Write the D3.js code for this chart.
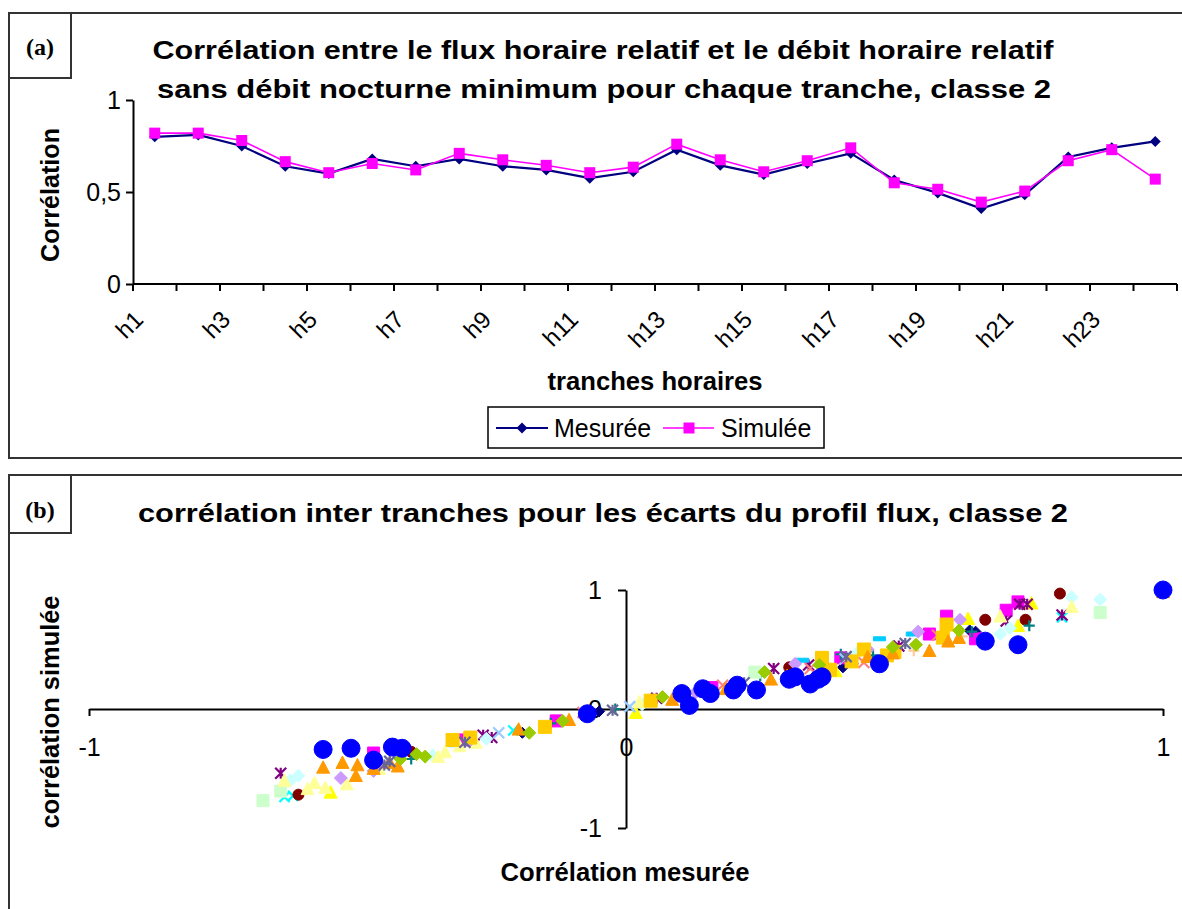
<!DOCTYPE html>
<html><head><meta charset="utf-8">
<script src="https://cdn.jsdelivr.net/npm/d3@7"></script>
<style>
body{margin:0;background:#fff}
text{font-family:"Liberation Sans",Arial,sans-serif;fill:#000}
</style>
</head><body>
<svg id="chart" width="1182" height="909"></svg>
<script>
// ---------- DATA : panel (a) ----------
const tranches = ["h1","h2","h3","h4","h5","h6","h7","h8","h9","h10","h11","h12",
                  "h13","h14","h15","h16","h17","h18","h19","h20","h21","h22","h23","h24"];
const mesuree = [0.80,0.81,0.75,0.64,0.60,0.68,0.64,0.68,0.64,0.62,0.575,0.61,
                 0.73,0.645,0.595,0.655,0.71,0.565,0.495,0.41,0.485,0.69,0.74,0.775];
const simulee = [0.82,0.82,0.78,0.665,0.605,0.655,0.62,0.71,0.675,0.645,0.605,0.635,
                 0.76,0.675,0.61,0.67,0.74,0.55,0.515,0.445,0.505,0.67,0.73,0.57];
const yTicksA = [0, 0.5, 1];
const yTickLabelsA = ["0", "0,5", "1"];

// ---------- DATA : panel (b)  [corrélation mesurée, corrélation simulée] ----------
const sNavy = [[-0.193,-0.20],[-0.05,-0.02],[0.404,0.35],[0.651,0.65],[0.64,0.66]];
const sMagenta = [[-0.47,-0.37],[-0.30,-0.26],[-0.13,-0.10],[0.16,0.18],[0.40,0.43],[0.565,0.63],[0.597,0.78],[0.651,0.59],[0.708,0.83],[0.73,0.90]];
const sYellow = [[0.018,-0.03],[0.39,0.32],[0.637,0.76],[0.73,0.70],[0.755,0.89],[-0.55,-0.70]];
const sCyan = [[-0.636,-0.74],[-0.62,-0.73],[0.812,0.77],[-0.21,-0.18]];
const sPurple = [[-0.643,-0.54],[-0.266,-0.22],[-0.25,-0.24],[0.057,0.09],[0.275,0.34],[0.34,0.37],[0.422,0.42],[0.508,0.53],[0.708,0.74],[0.733,0.88],[0.747,0.88],[0.812,0.79]];
const sMaroon = [[-0.61,-0.72],[-0.40,-0.36],[0.304,0.35],[0.669,0.75],[0.744,0.75],[0.808,0.97]];
const sTeal = [[-0.40,-0.42],[-0.14,-0.12],[-0.02,0.0],[0.25,0.28],[0.40,0.46],[0.46,0.45],[0.644,0.65],[0.751,0.70]];
const sSky = [[-0.32,-0.30],[0.329,0.41],[0.472,0.59],[0.533,0.63]];
const sLightCyan = [[-0.61,-0.56],[-0.625,-0.60],[-0.36,-0.39],[-0.26,-0.25],[0.03,0.04],[0.43,0.47],[0.697,0.63],[0.715,0.68],[0.83,0.94],[0.883,0.92]];
const sLightGreen = [[-0.676,-0.77],[-0.643,-0.69],[0.24,0.31],[0.883,0.81]];
const sLightYellow = [[-0.636,-0.60],[-0.593,-0.67],[-0.58,-0.62],[-0.56,-0.66],[-0.52,-0.63],[-0.46,-0.50],[-0.35,-0.40],[-0.337,-0.36],[-0.31,-0.31],[-0.28,-0.28],[0.025,0.06],[0.15,0.16],[0.697,0.78],[0.83,0.86]];
const sLightBlue = [[-0.237,-0.20],[0.007,0.02],[0.408,0.42]];
const sSalmon = [[-0.45,-0.46],[-0.08,-0.03],[0.18,0.20],[0.343,0.34],[0.443,0.39],[0.58,0.62]];
const sLavender = [[-0.531,-0.58],[-0.47,-0.52],[-0.29,-0.26],[0.13,0.14],[0.315,0.38],[0.45,0.50],[0.544,0.65],[0.622,0.75]];
const sPeach = [[0.536,0.49],[0.626,0.61]];
const sGold = [[-0.323,-0.26],[-0.29,-0.24],[-0.151,-0.15],[0.046,0.07],[0.365,0.43],[0.38,0.33],[0.42,0.40],[0.443,0.50],[0.486,0.45],[0.50,0.48],[0.59,0.60],[0.597,0.71]];
const sOrange = [[-0.564,-0.49],[-0.528,-0.45],[-0.50,-0.47],[-0.503,-0.56],[-0.47,-0.50],[-0.44,-0.45],[-0.425,-0.48],[-0.20,-0.17],[-0.106,-0.09],[0.086,0.08],[0.186,0.17],[0.27,0.25],[0.30,0.28],[0.45,0.44],[0.497,0.47],[0.565,0.49],[0.60,0.57],[0.62,0.60],[1.0,0.985]];
const sOlive = [[-0.42,-0.42],[-0.39,-0.38],[-0.374,-0.40],[-0.18,-0.20],[-0.118,-0.10],[0.068,0.10],[0.258,0.31],[0.36,0.37],[0.497,0.52],[0.54,0.54],[0.62,0.66]];
const sSlate = [[-0.45,-0.47],[-0.44,-0.44],[-0.30,-0.28],[-0.025,-0.01],[0.22,0.22],[0.41,0.44],[0.52,0.55]];
const sBlue = [[-0.564,-0.34],[-0.512,-0.33],[-0.47,-0.43],[-0.435,-0.32],[-0.417,-0.33],[-0.072,-0.04],
               [0.104,0.13],[0.118,0.03],[0.143,0.17],[0.157,0.13],[0.20,0.16],[0.207,0.20],[0.243,0.16],
               [0.304,0.25],[0.315,0.27],[0.343,0.21],[0.358,0.25],[0.365,0.27],[0.472,0.38],[0.669,0.57],[0.73,0.54],[1.0,1.0]];
const xTicksB = [-1, 0, 1];
const yTicksB = [-1, 0, 1];

// ---------- STYLES ----------
const seriesB = [
  {d:sNavy, c:"#000080", s:"diamond", z:11},
  {d:sMagenta, c:"#FF00FF", s:"square", z:12},
  {d:sYellow, c:"#FFFF00", s:"triangle", z:13},
  {d:sCyan, c:"#00FFFF", s:"x", z:10},
  {d:sPurple, c:"#800080", s:"star", z:11},
  {d:sMaroon, c:"#800000", s:"circle", z:11},
  {d:sTeal, c:"#008080", s:"plus", z:11},
  {d:sSky, c:"#00CCFF", s:"dash", z:12},
  {d:sLightCyan, c:"#CCFFFF", s:"diamond", z:13},
  {d:sLightGreen, c:"#CCFFCC", s:"square", z:12},
  {d:sLightYellow, c:"#FFFF99", s:"triangle", z:13},
  {d:sLightBlue, c:"#99CCFF", s:"x", z:11},
  {d:sSalmon, c:"#FF8080", s:"x", z:11},
  {d:sLavender, c:"#CC99FF", s:"diamond", z:13},
  {d:sPeach, c:"#FFCC99", s:"plus", z:11},
  {d:sGold, c:"#FFCC00", s:"square", z:13},
  {d:sOrange, c:"#FF9900", s:"triangle", z:13},
  {d:sOlive, c:"#99CC00", s:"diamond", z:13},
  {d:sSlate, c:"#666699", s:"star", z:11},
  {d:sBlue, c:"#0000FF", s:"circle", z:18}
];

function markerPath(shape, size){
  const r = size/2;
  switch(shape){
    case "diamond": return `M0,${-r}L${r},0L0,${r}L${-r},0Z`;
    case "square": return `M${-r},${-r}H${r}V${r}H${-r}Z`;
    case "triangle": return `M0,${-r}L${r},${r*0.9}L${-r},${r*0.9}Z`;
    case "circle": return d3.symbol().type(d3.symbolCircle).size(Math.PI*r*r)();
    case "x": return `M${-r},${-r}L${r},${r}M${r},${-r}L${-r},${r}`;
    case "star": return `M${-r},${-r}L${r},${r}M${r},${-r}L${-r},${r}M0,${-r}V${r}`;
    case "plus": return `M${-r},0H${r}M0,${-r}V${r}`;
    case "dash": return `M${-r},-2H${r}V2H${-r}Z`;
  }
}
const strokeShapes = new Set(["x","star","plus"]);

const svg = d3.select("#chart");

// ---------- PANEL FRAMES ----------
svg.append("rect").attr("x",9).attr("y",13).attr("width",1200).attr("height",445)
  .attr("fill","none").attr("stroke","#333").attr("stroke-width",2);
svg.append("rect").attr("x",9).attr("y",13).attr("width",62).attr("height",65)
  .attr("fill","none").attr("stroke","#333").attr("stroke-width",2);
svg.append("text").attr("x",40).attr("y",55).attr("text-anchor","middle")
  .style("font-family","'Liberation Serif',serif").style("font-size","24px").style("font-weight","bold").text("(a)");

svg.append("rect").attr("x",9).attr("y",475).attr("width",1200).attr("height",460)
  .attr("fill","none").attr("stroke","#333").attr("stroke-width",2);
svg.append("rect").attr("x",9).attr("y",475).attr("width",62).attr("height",58)
  .attr("fill","none").attr("stroke","#333").attr("stroke-width",2);
svg.append("text").attr("x",40).attr("y",518).attr("text-anchor","middle")
  .style("font-family","'Liberation Serif',serif").style("font-size","24px").style("font-weight","bold").text("(b)");

// ---------- PANEL (a) ----------
const xA = d3.scaleBand().domain(tranches).range([133,1177]);
const yA = d3.scaleLinear().domain([0,1]).range([284,100]);
const bw = xA.bandwidth();
const gA = svg.append("g");

gA.append("text").attr("x",603).attr("y",59).attr("text-anchor","middle")
  .attr("textLength",901).attr("lengthAdjust","spacingAndGlyphs")
  .style("font-size","25px").style("font-weight","bold")
  .text("Corrélation entre le flux horaire relatif et le débit horaire relatif");
gA.append("text").attr("x",604).attr("y",98).attr("text-anchor","middle")
  .attr("textLength",894).attr("lengthAdjust","spacingAndGlyphs")
  .style("font-size","25px").style("font-weight","bold")
  .text("sans débit nocturne minimum pour chaque tranche, classe 2");

// y axis
const yAxisA = d3.axisLeft(yA).tickValues(yTicksA)
  .tickFormat((d,i)=>yTickLabelsA[i]).tickSize(7).tickSizeOuter(0).tickPadding(5);
const gy = gA.append("g").attr("transform","translate(133,0)").call(yAxisA);
gy.selectAll("text").style("font-size","25px").style("font-family","'Liberation Sans',Arial,sans-serif");
gy.selectAll("line,path").attr("stroke","#000").attr("stroke-width",2);

// x axis (ticks at band boundaries)
gA.append("line").attr("x1",133).attr("x2",1177).attr("y1",yA(0)).attr("y2",yA(0))
  .attr("stroke","#000").attr("stroke-width",2);
const bounds = tranches.map(t=>xA(t)).concat([xA(tranches[tranches.length-1])+xA.step()]);
gA.selectAll(".xt").data(bounds).enter().append("line")
  .attr("x1",d=>d).attr("x2",d=>d).attr("y1",yA(0)).attr("y2",yA(0)+7)
  .attr("stroke","#000").attr("stroke-width",2);
gA.selectAll(".xl").data(tranches.filter((t,i)=>i%2===0)).enter().append("text")
  .attr("transform",d=>`translate(${xA(d)+bw/2-10},${yA(0)+37}) rotate(-45)`)
  .attr("text-anchor","end").style("font-size","24px").text(d=>d);

// axis titles
gA.append("text").attr("transform","translate(59,195) rotate(-90)").attr("text-anchor","middle")
  .attr("textLength",134).attr("lengthAdjust","spacingAndGlyphs")
  .style("font-size","25px").style("font-weight","bold").text("Corrélation");
gA.append("text").attr("x",655).attr("y",390).attr("text-anchor","middle")
  .attr("textLength",215).attr("lengthAdjust","spacingAndGlyphs")
  .style("font-size","25px").style("font-weight","bold").text("tranches horaires");

// lines
const lineA = d3.line().x(d=>xA(d.t)+bw/2).y(d=>yA(d.v));
const mesData = tranches.map((t,i)=>({t, v:mesuree[i]}));
const simData = tranches.map((t,i)=>({t, v:simulee[i]}));
gA.append("path").datum(mesData).attr("d",lineA).attr("fill","none").attr("stroke","#000080").attr("stroke-width",2.2);
gA.selectAll(".md").data(mesData).enter().append("path")
  .attr("transform",d=>`translate(${xA(d.t)+bw/2},${yA(d.v)})`)
  .attr("d",markerPath("diamond",11)).attr("fill","#000080");
gA.append("path").datum(simData).attr("d",lineA).attr("fill","none").attr("stroke","#FF00FF").attr("stroke-width",1.6);
gA.selectAll(".sd").data(simData).enter().append("path")
  .attr("transform",d=>`translate(${xA(d.t)+bw/2},${yA(d.v)})`)
  .attr("d",markerPath("square",11)).attr("fill","#FF00FF");

// legend
const lg = gA.append("g");
lg.append("rect").attr("x",488).attr("y",407).attr("width",336).attr("height",41)
  .attr("fill","#fff").attr("stroke","#000").attr("stroke-width",1.5);
lg.append("line").attr("x1",496).attr("x2",548).attr("y1",428).attr("y2",428).attr("stroke","#000080").attr("stroke-width",2.2);
lg.append("path").attr("transform","translate(522,428)").attr("d",markerPath("diamond",11)).attr("fill","#000080");
lg.append("text").attr("x",554).attr("y",437).style("font-size","25px").text("Mesurée");
lg.append("line").attr("x1",663).attr("x2",714).attr("y1",428).attr("y2",428).attr("stroke","#FF00FF").attr("stroke-width",1.6);
lg.append("path").attr("transform","translate(689,428)").attr("d",markerPath("square",11)).attr("fill","#FF00FF");
lg.append("text").attr("x",721).attr("y",437).style("font-size","25px").text("Simulée");

// ---------- PANEL (b) ----------
const xB = d3.scaleLinear().domain([-1,1]).range([89,1163]);
const yB = d3.scaleLinear().domain([-1,1]).range([828,590]);
const gB = svg.append("g");

gB.append("text").attr("x",603).attr("y",522).attr("text-anchor","middle")
  .attr("textLength",930).attr("lengthAdjust","spacingAndGlyphs")
  .style("font-size","25px").style("font-weight","bold")
  .text("corrélation inter tranches pour les écarts du profil flux, classe 2");

const xAxisB = d3.axisBottom(xB).tickValues(xTicksB).tickFormat(d=>d).tickSize(7).tickSizeOuter(0).tickPadding(22);
const gxb = gB.append("g").attr("transform",`translate(0,${yB(0)})`).call(xAxisB);
const yAxisB = d3.axisLeft(yB).tickValues(yTicksB).tickFormat(d=>d).tickSize(8).tickSizeOuter(0).tickPadding(16);
const gyb = gB.append("g").attr("transform",`translate(${xB(0)},0)`).call(yAxisB);
[gxb,gyb].forEach(g=>{
  g.selectAll("text").style("font-size","25px").style("font-family","'Liberation Sans',Arial,sans-serif");
  g.selectAll("line,path").attr("stroke","#000").attr("stroke-width",2);
});
gxb.selectAll(".tick").filter(d=>d===0).select("line").remove();
gyb.selectAll(".tick").filter(d=>d===0).select("line").remove();

gB.append("text").attr("transform","translate(59,712) rotate(-90)").attr("text-anchor","middle")
  .attr("textLength",233).attr("lengthAdjust","spacingAndGlyphs")
  .style("font-size","25px").style("font-weight","bold").text("corrélation simulée");
gB.append("text").attr("x",625).attr("y",881).attr("text-anchor","middle")
  .attr("textLength",249).attr("lengthAdjust","spacingAndGlyphs")
  .style("font-size","25px").style("font-weight","bold").text("Corrélation mesurée");

// scatter
seriesB.forEach(sr=>{
  const stroked = strokeShapes.has(sr.s);
  gB.append("g").selectAll("path").data(sr.d).enter().append("path")
    .attr("transform",d=>`translate(${xB(d[0])},${yB(d[1])})`)
    .attr("d",markerPath(sr.s,sr.z))
    .attr("fill",stroked?"none":sr.c)
    .attr("stroke",sr.c).attr("stroke-width",stroked?2.2:1);
});
</script>
</body></html>
